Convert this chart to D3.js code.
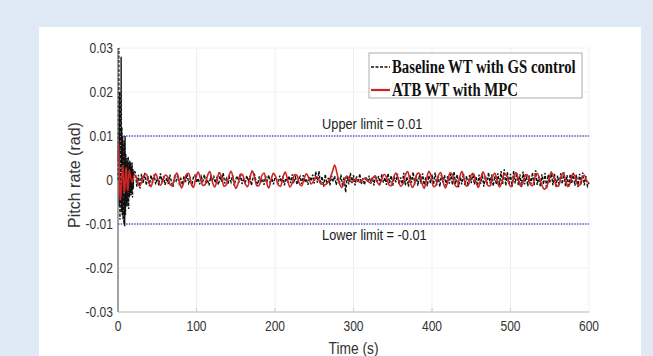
<!DOCTYPE html>
<html>
<head>
<meta charset="utf-8">
<script src="https://cdn.jsdelivr.net/npm/d3@7"></script>
<style>
  html, body { margin: 0; padding: 0; background: #dfeaf6; }
  svg { display: block; }
</style>
</head>
<body>
<svg id="svg" width="653" height="356"></svg>
<script>
// ---- data (pitch rate in mrad) ----
const xTicks = [0, 100, 200, 300, 400, 500, 600];
const yTicks = [0.03, 0.02, 0.01, 0, -0.01, -0.02, -0.03];
const yTickLabels = ['0.03', '0.02', '0.01', '0', '-0.01', '-0.02', '-0.03'];
const limits = [0.01, -0.01];
const limitLabels = ['Upper limit = 0.01', 'Lower limit = -0.01'];
const seriesNames = ['Baseline WT with GS control', 'ATB WT with MPC'];

// baseline: 0..20 s every 0.5 s, then 22..600 s every 2 s
const baselineEarly = [0, 12, 30, -6, 20, -9, 15, -6, 28, -7.3, 12, -8, 10, -9, 8, -10, 9, -10.5, 10, -8,
  6, -6, 5, -5, 4.5, -6, 5.3, -6.6, 4, -4, 4.5, -3, 4, -3.5, 3, -3, 4, -4, 2.5, -2, 2];
const baselineLate = [
  1.8, -1.5, 1.2, -1.9, 1.4, -0.8, 1.6, -1.2, 0.9, -1.4,
  1.1, -0.6, 1.3, -1.0, 0.4, -1.2, 1.5, -0.3, 0.8, -1.1,
  0.5, -0.9, 1.2, -0.4, -1.6, 0.7, -0.2, 1.0, -0.8, 0.3,
  -1.1, 0.9, -0.5, 1.4, -0.7, 0.2, -1.3, 0.6, 1.1, -0.6,
  0.4, -1.0, 0.8, -0.3, 1.2, -0.9, 0.1, -1.2, 0.7, -0.2,
  1.0, -0.7, 0.5, -1.1, 0.9, -0.4, 1.6, -0.8, 0.3, -1.0,
  0.6, -0.5, 1.1, -1.3, 0.2, 0.9, -0.6, 1.3, -0.9, 0.4,
  -0.8, 1.0, -0.3, 0.7, -1.2, 0.5, 1.2, -0.4, -1.0, 0.8,
  -0.6, 0.3, -1.1, 0.9, -0.2, 1.1, -0.8, 0.4, -1.0, 0.6,
  0.2, -0.9, 1.0, -0.5, 0.8, -1.2, 0.4, -0.3, 0.9, -0.7,
  1.3, -0.4, 0.6, -1.0, 0.2, 0.8, -0.9, 1.1, -0.5, 0.3,
  -1.1, 0.7, -0.2, 1.2, -0.8, 1.9, -0.6, 2.0, -1.0, 0.8,
  -1.5, 1.3, -0.9, 0.5, -1.2, 1.0, -0.4, 0.9, -1.1, 0.6,
  -0.8, 1.2, -1.4, 0.6, -2.8, 0.9, -1.0, 1.6, -0.7, 1.1,
  -1.2, 0.8, -0.6, 1.4, -0.9, 0.4, -1.1, 0.7, -0.5, 1.0,
  -0.8, 0.6, -1.2, 1.1, -0.4, 0.9, -1.0, 1.3, -0.6, 0.5,
  -1.1, 1.5, -0.7, 1.0, -1.3, 0.8, -0.5, 1.4, -1.0, 0.6,
  -0.9, 1.6, -1.2, 0.7, -1.5, 1.1, -0.6, 1.8, -1.0, 0.9,
  -1.3, 1.2, -0.8, 1.5, -1.1, 0.6, -1.4, 1.0, -0.7, 1.3,
  -1.0, 1.7, -1.2, 0.8, -1.5, 1.3, -0.6, 1.1, -1.3, 0.9,
  -0.8, 1.4, -1.1, 1.9, -0.9, 1.2, -1.6, 0.7, -1.0, 1.5,
  -1.2, 0.9, -1.4, 1.1, -0.7, 1.6, -1.0, 0.8, -1.3, 1.2,
  -0.9, 1.3, -1.5, 1.0, -1.1, 1.7, -0.8, 1.2, -1.4, 0.9,
  -1.0, 1.5, -1.2, 2.0, -0.9, 2.4, -1.3, 1.8, -1.1, 1.4,
  -1.5, 2.1, -0.8, 1.6, -1.2, 1.3, -1.6, 1.9, -1.0, 1.2,
  -1.4, 1.0, -0.9, 1.7, -1.3, 2.2, -1.1, 0.8, -1.5, 1.3,
  -1.0, 1.6, -2.0, 1.2, -0.7, 1.9, -1.2, 1.4, -1.6, 1.0,
  -1.2, 1.5, -0.9, 1.8, -1.4, 1.1, -1.7, 1.3, -0.8, 1.6,
  -1.3, 1.2, -1.6, 1.4, -1.0, 1.7, -1.2, 0.9, -1.4, -0.6
];

// MPC: 0..15 s every 0.5 s, then 18..600 s every 3 s
const mpcEarly = [4, 9, 7, 3, -1, -3, -4.5, -4, -2.5, -0.5, 1.5, 3, 3.2, 2, 0, -2,
  -3, -2.5, -1, 1, 2.5, 2.8, 1.5, -0.5, -2, -2.4, -1.5, 0, 1.5, 2.2, 1.6];
const mpcLate = [
  -0.5, 1.2, 0.3, -1.4, -0.6, 1.0, 1.3, -0.4, -1.5, 0.2, 1.4, 0.1,
  -1.2, -0.3, 1.1, 0.8, -0.9, -1.3, 0.5, 1.6, -0.2, -1.8, -0.4, 1.2,
  1.5, -0.6, -1.7, 0.3, 1.8, 0.4, -1.2, -1.0, 1.0, 1.9, -0.3, -1.6,
  -0.2, 1.7, 0.6, -1.4, -1.1, 0.8, 2.0, 0.2, -1.9, -0.8, 1.3, 1.1,
  -0.9, -1.5, 0.4, 2.1, 0.5, -1.3, -1.2, 0.9, 1.6, -0.4, -1.8, 0.0,
  1.5, 0.7, -1.1, -1.4, 0.6, 1.8, 0.1, -1.6, -0.7, 1.2, 1.0, -0.8,
  -1.3, 0.3, 1.4, 0.5, -0.9, -0.3, 0.8, 0.4, -0.8, -1.0, -1.1, -0.6,
  0.4, 1.8, 3.4, 1.5, -0.8, -1.7, -0.6, 0.9, 0.5, -0.4, -0.2, 0.3,
  -0.3, -0.5, 0.2, 0.4, -0.2, -0.6, 0.3, 0.9, -0.4, -1.1, 0.2, 1.3,
  0.6, -1.0, -1.3, 0.5, 1.6, 0.2, -1.4, -0.9, 1.1, 1.9, -0.2, -1.7,
  -0.7, 1.4, 1.5, -0.6, -1.9, 0.1, 2.0, 0.8, -1.5, -1.2, 1.0, 1.7,
  -0.3, -1.8, -0.4, 1.6, 1.2, -1.0, -1.6, 0.5, 1.9, 0.3, -1.4, -0.9,
  1.2, 1.4, -0.5, -1.7, 0.2, 1.8, 0.6, -1.2, -1.3, 0.7, 1.5, -0.2,
  -1.6, -0.5, 1.3, 1.1, -0.8, -1.5, 0.4, 1.7, 0.2, -1.4, -0.6, 1.2,
  1.0, -0.9, -1.3, 0.6, 1.5, 0.3, -1.2, -2.1, -1.6, 0.2, 1.7, 0.8,
  -1.1, -1.4, 0.5, 1.6, 0.1, -1.5, -0.7, 1.3, 1.0, -0.9, -1.2, 0.4,
  1.1, -0.2, -0.6
];

// sample times
const baselineTime = d3.range(0, 20.01, 0.5).concat(d3.range(22, 600.01, 2));
const mpcTime = d3.range(0, 15.01, 0.5).concat(d3.range(18, 600.01, 3));
const baseline = baselineTime.map((t, i) => ({ t, v: baselineEarly.concat(baselineLate)[i] / 1000 }));
const mpc = mpcTime.map((t, i) => ({ t, v: mpcEarly.concat(mpcLate)[i] / 1000 }));

// ---- drawing ----
const svg = d3.select('#svg');
const font = 'Arial, "Liberation Sans", sans-serif';

// squeeze text horizontally a bit, the figure is narrow
function squeeze(sel, k) {
  sel.each(function () {
    const w = this.getComputedTextLength();
    d3.select(this).attr('textLength', w * k).attr('lengthAdjust', 'spacingAndGlyphs');
  });
}

svg.append('rect').attr('x', 39).attr('y', 27).attr('width', 602).attr('height', 340).attr('fill', '#ffffff');

const x = d3.scaleLinear().domain([0, 600]).range([118, 589]);
const y = d3.scaleLinear().domain([-0.03, 0.03]).range([312, 48]);

// grid
const grid = svg.append('g');
grid.selectAll('.gx').data(xTicks.slice(1)).enter().append('line')
  .attr('x1', d => x(d)).attr('x2', d => x(d)).attr('y1', y(0.03)).attr('y2', y(-0.03))
  .attr('stroke', '#efefef').attr('stroke-width', 1);
grid.selectAll('.gy').data(yTicks).enter().append('line')
  .attr('x1', x(0)).attr('x2', x(600)).attr('y1', d => y(d)).attr('y2', d => y(d))
  .attr('stroke', '#f2f2f2').attr('stroke-width', 1);

// limits
svg.selectAll('.lim').data(limits).enter().append('line')
  .attr('x1', x(0)).attr('x2', x(600)).attr('y1', d => y(d)).attr('y2', d => y(d))
  .attr('stroke', '#5a5ac8').attr('stroke-width', 1.3).attr('stroke-dasharray', '1.5,1.2');

// series
const line = d3.line().x(d => x(d.t)).y(d => y(d.v));
svg.append('path').datum(baseline).attr('d', line)
  .attr('fill', 'none').attr('stroke', '#111').attr('stroke-width', 1.4)
  .attr('stroke-dasharray', '3,1.5');
svg.append('path').datum(mpc).attr('d', line.curve(d3.curveCatmullRom))
  .attr('fill', 'none').attr('stroke', '#d02424').attr('stroke-width', 1.6);

// axes
svg.append('line').attr('x1', x(0)).attr('x2', x(0)).attr('y1', y(0.03)).attr('y2', y(-0.03))
  .attr('stroke', '#666').attr('stroke-width', 1.2);
svg.append('line').attr('x1', x(0)).attr('x2', x(600)).attr('y1', y(-0.03)).attr('y2', y(-0.03))
  .attr('stroke', '#bbb').attr('stroke-width', 1);
svg.selectAll('.tt').data(xTicks.slice(1, -1)).enter().append('line')
  .attr('x1', d => x(d)).attr('x2', d => x(d)).attr('y1', y(-0.03)).attr('y2', y(-0.03) - 4)
  .attr('stroke', '#ccc');

const yl = svg.selectAll('.yl').data(yTicks).enter().append('text')
  .attr('x', x(0) - 5).attr('y', d => y(d) + 5)
  .attr('text-anchor', 'end').attr('font-family', font).attr('font-size', 14).attr('fill', '#333')
  .text((d, i) => yTickLabels[i]);
squeeze(yl, 0.86);

const xl = svg.selectAll('.xl').data(xTicks).enter().append('text')
  .attr('x', d => x(d)).attr('y', y(-0.03) + 19)
  .attr('text-anchor', 'middle').attr('font-family', font).attr('font-size', 14).attr('fill', '#333')
  .text(d => d);
squeeze(xl, 0.86);

const xt = svg.append('text').attr('x', x(300)).attr('y', 354)
  .attr('text-anchor', 'middle').attr('font-family', font).attr('font-size', 16).attr('fill', '#333')
  .text('Time (s)');
squeeze(xt, 0.86);

svg.append('text').attr('transform', `translate(80,${y(0) - 5}) rotate(-90)`)
  .attr('text-anchor', 'middle').attr('font-family', font).attr('font-size', 16).attr('fill', '#333')
  .text('Pitch rate (rad)');

// limit labels
const ll = svg.selectAll('.ll').data(limits).enter().append('text')
  .attr('x', x(260)).attr('y', d => y(d > 0 ? 0.0117 : -0.0137))
  .attr('font-family', font).attr('font-size', 14.5).attr('fill', '#222')
  .text((d, i) => limitLabels[i]);
squeeze(ll, 0.88);

// legend
const lg = svg.append('g');
lg.append('rect').attr('x', 369).attr('y', 53).attr('width', 213).attr('height', 45)
  .attr('fill', '#fff').attr('stroke', '#999').attr('stroke-width', 0.8);
const legendStyles = [
  { stroke: '#111', dash: '3,1.5', w: 1.4 },
  { stroke: '#d02424', dash: null, w: 2.2 }
];
seriesNames.forEach((name, i) => {
  const cy = 67 + i * 23;
  lg.append('line').attr('x1', 371).attr('x2', 390).attr('y1', cy).attr('y2', cy)
    .attr('stroke', legendStyles[i].stroke).attr('stroke-width', legendStyles[i].w)
    .attr('stroke-dasharray', legendStyles[i].dash);
  const t = lg.append('text').attr('x', 392).attr('y', cy + 6)
    .attr('font-family', '"Liberation Serif", "Times New Roman", serif').attr('font-weight', 'bold')
    .attr('font-size', 18).attr('fill', '#111').text(name);
  squeeze(t, 0.82);
});
</script>
</body>
</html>
